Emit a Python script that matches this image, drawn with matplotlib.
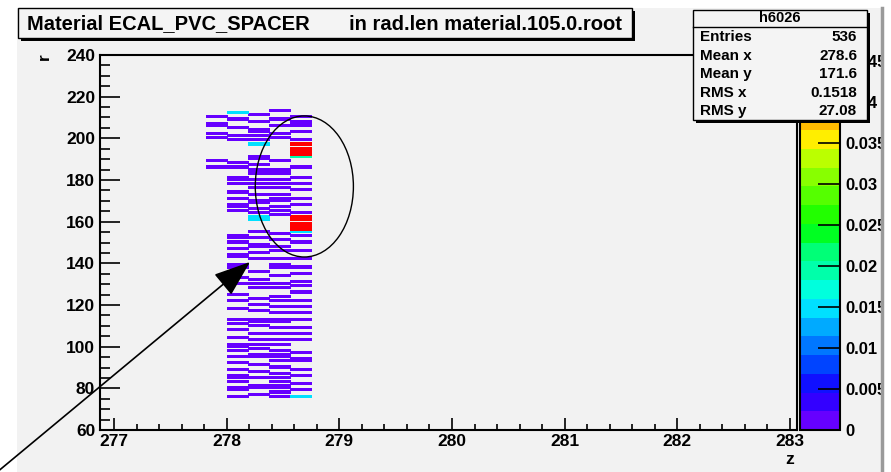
import numpy as np
import matplotlib.pyplot as plt
from matplotlib.colors import ListedColormap, BoundaryNorm
from matplotlib.patches import Rectangle, Ellipse
from matplotlib.ticker import MultipleLocator

plt.rcParams['font.family'] = ['Liberation Sans', 'DejaVu Sans']
plt.rcParams['font.weight'] = 'bold'

W, H = 891, 472
BG = '#f2f2f2'

# histogram binning: z in steps of 0.1875, r in steps of 1
z_edges = np.arange(276.875, 283.07, 0.1875)
r_edges = np.arange(60, 241, 1)

# centres of the five z columns that hold material
col_z = [277.906, 278.094, 278.281, 278.469, 278.656]

# r bins (lower edge) with a small amount of material, one list per column
rows_a = [186, 189, 200, 202, 206, 207, 210]
rows_b = [76, 79, 80, 83, 85, 86, 89, 92, 95, 98, 100, 101, 104, 108, 111, 113,
          118, 122, 125, 130, 133, 138, 139, 143, 144, 147, 150, 152, 153, 165,
          167, 168, 171, 174, 178, 180, 181, 186, 188, 199, 201, 205, 209]
rows_c = [77, 80, 81, 85, 88, 91, 95, 96, 99, 101, 103, 106, 110, 112, 113, 117,
          120, 123, 128, 130, 132, 136, 142, 145, 148, 149, 152, 155, 164, 166,
          169, 170, 173, 176, 178, 180, 183, 184, 185, 187, 190, 191, 199, 201,
          203, 204, 208, 211]
rows_d = [76, 78, 80, 81, 83, 85, 87, 90, 93, 95, 96, 98, 101, 103, 106, 109,
          112, 113, 116, 119, 122, 124, 128, 130, 134, 138, 139, 142, 146, 148,
          151, 154, 163, 165, 167, 170, 171, 173, 176, 178, 180, 183, 184, 185,
          189, 200, 202, 206, 209, 213]
rows_e = [79, 82, 86, 89, 93, 94, 97, 103, 106, 109, 113, 116, 119, 122, 126,
          129, 131, 135, 138, 142, 146, 150, 153, 164, 168, 171, 175, 178, 181,
          186, 199, 203, 206, 207, 208, 210]
thin_val = 0.001

# cells with larger values: (column index, r bin)
cyan_z = [1, 2, 2, 2, 4, 4]
cyan_r = [212, 161, 162, 197, 76, 155]
cyan_val = 0.0145
teal_z = [4]
teal_r = [191]
teal_val = 0.0195
red_z = [4] * 11
red_r = [156, 157, 158, 159, 161, 162, 192, 193, 194, 195, 197]
red_val = 0.0455

zmax = 0.0457
cb_ticks = [0, 0.005, 0.01, 0.015, 0.02, 0.025, 0.03, 0.035, 0.04, 0.045]
cb_labels = ['0', '0.005', '0.01', '0.015', '0.02', '0.025', '0.03', '0.035', '0.04', '0.045']

stat_names = ['Entries', 'Mean x', 'Mean y', 'RMS x', 'RMS y']
stat_vals = ['536', '278.6', '171.6', '0.1518', '27.08']

palette = ['#6600ff', '#3300ff', '#1010ff', '#0044ff', '#0077ff', '#00aaff',
           '#00e0ff', '#00ffdd', '#00ffaa', '#00ff77', '#00ff22', '#22ff00',
           '#55ff00', '#88ff00', '#bbff00', '#ffee00', '#ffbb00', '#ff8800',
           '#ff4400', '#ff0000']

# fill the 2D histogram
hist = np.zeros((len(r_edges) - 1, len(z_edges) - 1))
def fill(zc, r, v):
    iz = np.searchsorted(z_edges, zc) - 1
    ir = np.searchsorted(r_edges, r + 0.5) - 1
    hist[ir, iz] = v

for ci, rows in enumerate([rows_a, rows_b, rows_c, rows_d, rows_e]):
    for r in rows:
        fill(col_z[ci], r, thin_val)
for zs, rs, v in [(cyan_z, cyan_r, cyan_val), (teal_z, teal_r, teal_val),
                  (red_z, red_r, red_val)]:
    for ci, r in zip(zs, rs):
        fill(col_z[ci], r, v)
hist = np.ma.masked_equal(hist, 0)

fig = plt.figure(figsize=(W / 100, H / 100), dpi=100)
fig.patch.set_facecolor('white')
fig.add_artist(Rectangle((17 / W, 0), 865 / W, 464 / H, transform=fig.transFigure,
                         facecolor=BG, edgecolor='none', zorder=-5))

ax = fig.add_axes([100 / W, 42 / H, 697 / W, 375 / H])
ax.set_facecolor(BG)
cmap = ListedColormap(palette)
norm = BoundaryNorm(np.linspace(0, zmax, 21), cmap.N)
mesh = ax.pcolormesh(z_edges, r_edges, hist, cmap=cmap, norm=norm,
                     edgecolors='face', linewidth=0.5)
ax.set_xlim(z_edges[0], z_edges[-1])
ax.set_ylim(60, 240)

ax.xaxis.set_major_locator(MultipleLocator(1))
ax.xaxis.set_minor_locator(MultipleLocator(0.2))
ax.yaxis.set_major_locator(MultipleLocator(20))
ax.yaxis.set_minor_locator(MultipleLocator(5))
ax.tick_params(axis='x', which='major', direction='in', length=8.6, width=1.2,
               labelsize=12.5, pad=3)
ax.tick_params(axis='x', which='minor', direction='in', length=4.3, width=1.2)
ax.tick_params(axis='y', which='major', direction='in', length=14.4, width=1.2,
               labelsize=12.5, pad=3.5)
ax.tick_params(axis='y', which='minor', direction='in', length=7.2, width=1.2)
for s in ax.spines.values():
    s.set_linewidth(1.5)

# circle around the dense region
ax.add_patch(Ellipse((278.689, 176.9), 0.871, 67.7, fill=False,
                     edgecolor='black', linewidth=1, zorder=5))

# palette
cax = fig.add_axes([800 / W, 42 / H, 40 / W, 375 / H])
cb = fig.colorbar(mesh, cax=cax, ticks=cb_ticks)
cb.ax.set_yticklabels(cb_labels)
cb.ax.minorticks_off()
cb.ax.tick_params(direction='in', length=15.5, width=1.2, labelsize=12, pad=4)
cb.outline.set_linewidth(1.5)

# overlay in pixel coordinates for the ROOT panes
ov = fig.add_axes([0, 0, 1, 1], zorder=10)
ov.set_xlim(0, W)
ov.set_ylim(H, 0)
ov.axis('off')

# right border of the canvas
ov.add_patch(Rectangle((881, 0), 11, H, facecolor='white', edgecolor='none'))
ov.plot([882, 882], [8, H], color='#9a9a9a', lw=2.5)

# title pane
ov.add_patch(Rectangle((21, 11), 614, 30, facecolor='black', edgecolor='none'))
ov.add_patch(Rectangle((18, 8), 614, 30, facecolor='#f4f4f4', edgecolor='black', lw=1))
ov.text(27, 23.5, 'Material ECAL_PVC_SPACER       in rad.len material.105.0.root',
        fontsize=14.5, va='center', ha='left')

# stats pane
ov.add_patch(Rectangle((696, 13), 174, 110, facecolor='black', edgecolor='none'))
ov.add_patch(Rectangle((693, 10), 174, 110, facecolor='#f4f4f4', edgecolor='black', lw=1))
ov.plot([693, 867], [27, 27], color='black', lw=1)
ov.text(780, 18.5, 'h6026', fontsize=10.5, ha='center', va='center')
for i, (n, v) in enumerate(zip(stat_names, stat_vals)):
    y = 37 + i * 18.6
    ov.text(700, y, n, fontsize=11, ha='left', va='center')
    ov.text(857, y, v, fontsize=11, ha='right', va='center')

# axis titles
ov.text(790, 460, 'z', fontsize=12.5, ha='center', va='center')
ov.text(44, 57, 'r', fontsize=12.5, ha='center', va='center', rotation=90)

# arrow pointing at the spacer
ov.annotate('', xy=(250, 262), xytext=(-4, 473),
            arrowprops=dict(arrowstyle='-|>,head_length=23,head_width=8.5',
                            mutation_scale=1, color='black', lw=1.2,
                            shrinkA=0, shrinkB=0))

fig.savefig('out.png', dpi=100, facecolor=fig.get_facecolor())
